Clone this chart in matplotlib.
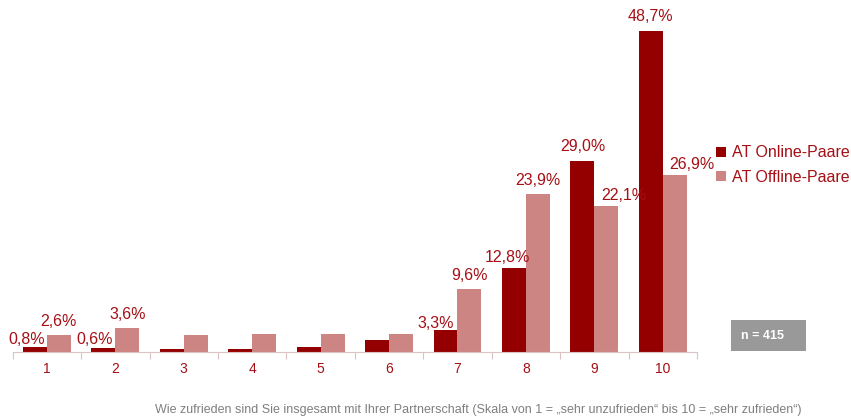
import matplotlib.pyplot as plt
import numpy as np
from matplotlib.patches import Rectangle

plt.rcParams['font.family'] = ['Liberation Sans', 'DejaVu Sans']

categories = ['1', '2', '3', '4', '5', '6', '7', '8', '9', '10']
online = [0.8, 0.6, 0.45, 0.45, 0.75, 1.8, 3.3, 12.8, 29.0, 48.7]
offline = [2.6, 3.6, 2.6, 2.7, 2.7, 2.7, 9.6, 23.9, 22.1, 26.9]
online_labels = ['0,8%', '0,6%', '', '', '', '', '3,3%', '12,8%', '29,0%', '48,7%']
offline_labels = ['2,6%', '3,6%', '', '', '', '', '9,6%', '23,9%', '22,1%', '26,9%']

# label nudges in pixels (dx, gap above bar)
on_dx = [-8, -9, 0, 0, 0, 0, -10, -7, 0, 0]
on_dy = [3, 4, 0, 0, 0, 0, 2, 6, 10, 10]
off_dx = [0, 0, 0, 0, 0, 0, 0, 0, 17, 17]
off_dy = [9, 9, 0, 0, 0, 0, 9, 9, 6, 6]

c_on = '#940000'
c_off = '#CD8583'
c_txt = '#A50F15'

fig = plt.figure(figsize=(8.51, 4.19), dpi=100)
ax = fig.add_axes([12.7/851, 1-352/419, (697-12.7)/851, (352-22.5)/419])

x = np.arange(len(categories))
w = 0.35
b1 = ax.bar(x - w/2, online, w, color=c_on, label='AT Online-Paare')
b2 = ax.bar(x + w/2, offline, w, color=c_off, label='AT Offline-Paare')

for i, (v, t) in enumerate(zip(online, online_labels)):
    if t:
        ax.annotate(t, (x[i] - w/2, v), xytext=(on_dx[i], on_dy[i]), textcoords='offset pixels',
                    ha='center', va='baseline', color=c_txt, fontsize=11.5)
for i, (v, t) in enumerate(zip(offline, offline_labels)):
    if t:
        ax.annotate(t, (x[i] + w/2, v), xytext=(off_dx[i], off_dy[i]), textcoords='offset pixels',
                    ha='center', va='baseline', color=c_txt, fontsize=11.5)

ax.set_xlim(-0.5, 9.5)
ax.set_ylim(0, 50)
for s in ['top', 'right', 'left']:
    ax.spines[s].set_visible(False)
ax.spines['bottom'].set_color('#D9C3C3')
ax.set_yticks([])
ax.set_xticks(np.arange(-0.5, 10, 1))
ax.set_xticklabels([])
ax.set_xticks(x, minor=True)
ax.set_xticklabels(categories, minor=True)
ax.tick_params(axis='x', which='major', length=5, color='#D9C3C3', direction='out')
ax.tick_params(axis='x', which='minor', length=0, labelsize=10, labelcolor=c_txt, pad=7)

leg = fig.legend(handles=[b1, b2], loc='upper left', bbox_to_anchor=(710/851, 1-139/419),
                 frameon=False, fontsize=11.5, handlelength=0.6, handleheight=0.6,
                 handletextpad=0.35, labelspacing=0.6, borderaxespad=0)
for t in leg.get_texts():
    t.set_color(c_txt)

fig.patches.append(Rectangle((731/851, 1-351/419), 75/851, 31/419, transform=fig.transFigure,
                             fc='#999999', ec='none'))
fig.text(741/851, 1-336/419, 'n = 415', ha='left', va='center', color='white',
         fontsize=9, fontweight='bold')

fig.text(478/851, 1-410/419,
         'Wie zufrieden sind Sie insgesamt mit Ihrer Partnerschaft (Skala von 1 = \u201esehr unzufrieden\u201c bis 10 = \u201esehr zufrieden\u201c)',
         ha='center', va='center', color='#7F7F7F', fontsize=9)

fig.savefig('out.png', dpi=100)
